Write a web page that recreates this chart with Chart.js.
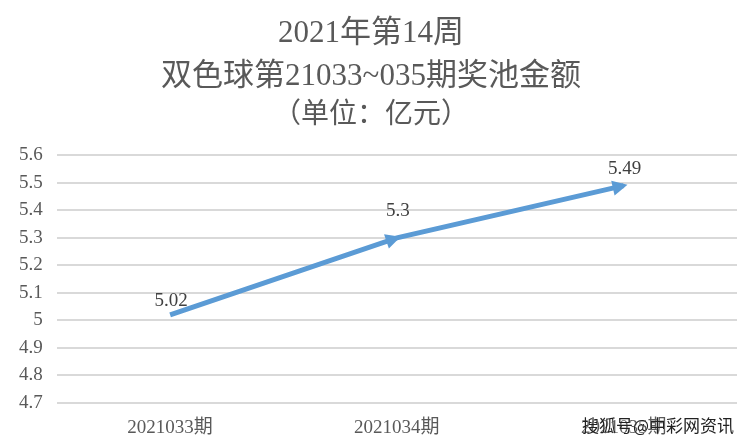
<!DOCTYPE html>
<html lang="zh">
<head>
    <meta charset="UTF-8">
    <title>双色球奖池金额</title>
    <script src="https://cdn.jsdelivr.net/npm/chart.js@4.4.1/dist/chart.umd.min.js"></script>
    <style>
        body {
            margin: 0;
            background: #ffffff;
        }

        #wrap {
            position: relative;
            width: 738px;
            height: 440px;
        }

        #watermark {
            position: absolute;
            right: 4px;
            bottom: 3px;
            font-family: "Noto Sans CJK SC", sans-serif;
            font-size: 17px;
            color: #222;
            text-shadow: 0 0 1px #fff;
        }
    </style>
</head>
<body>
    <div id="wrap">
        <canvas id="chart" width="738" height="440"></canvas>
        <div id="watermark">搜狐号@中彩网资讯</div>
    </div>

    <script>
        // data
        var periods = ['2021033期', '2021034期', '2021035期'];
        var pool = [5.02, 5.3, 5.49];
        var titleLines = ['2021年第14周', '双色球第21033~035期奖池金额'];
        var subtitleText = '（单位：亿元）';

        var textColor = '#595959';
        var lineColor = '#5B9BD5';
        var serif = '"Liberation Serif", "Noto Sans CJK SC", serif';

        // arrow heads at the end of every segment, like the Excel line ends
        var arrowPlugin = {
            id: 'arrows',
            afterDatasetsDraw: function (chart) {
                var pts = chart.getDatasetMeta(0).data;
                var ctx = chart.ctx;
                for (var i = 1; i < pts.length; i++) {
                    var a = pts[i - 1], b = pts[i];
                    var ang = Math.atan2(b.y - a.y, b.x - a.x);
                    var len = 15, half = 7.5, over = 4;
                    var tx = b.x + Math.cos(ang) * over;
                    var ty = b.y + Math.sin(ang) * over;
                    ctx.save();
                    ctx.fillStyle = lineColor;
                    ctx.beginPath();
                    ctx.moveTo(tx, ty);
                    ctx.lineTo(tx - len * Math.cos(ang) + half * Math.sin(ang),
                               ty - len * Math.sin(ang) - half * Math.cos(ang));
                    ctx.lineTo(tx - len * Math.cos(ang) - half * Math.sin(ang),
                               ty - len * Math.sin(ang) + half * Math.cos(ang));
                    ctx.closePath();
                    ctx.fill();
                    ctx.restore();
                }
            }
        };

        // value labels above the points
        var labelLift = [14, 27, 17];
        var labelPlugin = {
            id: 'valueLabels',
            afterDatasetsDraw: function (chart) {
                var ds = chart.data.datasets[0];
                var pts = chart.getDatasetMeta(0).data;
                var ctx = chart.ctx;
                ctx.save();
                ctx.font = '19px ' + serif;
                ctx.fillStyle = '#404040';
                ctx.textAlign = 'center';
                ctx.textBaseline = 'middle';
                pts.forEach(function (p, i) {
                    ctx.fillText(String(ds.data[i]), p.x + 1, p.y - labelLift[i]);
                });
                ctx.restore();
            }
        };

        new Chart(document.getElementById('chart'), {
            type: 'line',
            data: {
                labels: periods,
                datasets: [{
                    data: pool,
                    borderColor: lineColor,
                    borderWidth: 5,
                    borderCapStyle: 'butt',
                    pointRadius: 0,
                    tension: 0,
                    fill: false
                }]
            },
            options: {
                responsive: false,
                animation: false,
                layout: {
                    padding: { left: 5, right: 1, top: 0, bottom: 0 }
                },
                plugins: {
                    legend: { display: false },
                    tooltip: { enabled: false },
                    title: {
                        display: true,
                        text: titleLines,
                        color: textColor,
                        font: { family: serif, size: 31, weight: 'normal', lineHeight: 1.4 },
                        padding: { top: 12, bottom: 0 }
                    },
                    subtitle: {
                        display: true,
                        text: subtitleText,
                        color: textColor,
                        font: { family: serif, size: 28, weight: 'normal', lineHeight: 1.2 },
                        padding: { top: 0, bottom: 23 }
                    }
                },
                scales: {
                    x: {
                        offset: true,
                        grid: { display: false },
                        border: { display: false },
                        afterFit: function (scale) {
                            scale.height = 37;
                        },
                        ticks: {
                            color: textColor,
                            padding: 6,
                            font: { family: serif, size: 19 }
                        }
                    },
                    y: {
                        min: 4.7,
                        max: 5.6,
                        grid: { color: '#d9d9d9', lineWidth: 2, drawTicks: false },
                        border: { display: false },
                        ticks: {
                            stepSize: 0.1,
                            color: textColor,
                            padding: 14,
                            font: { family: serif, size: 19 },
                            callback: function (v) {
                                return String(Math.round(v * 10) / 10);
                            }
                        }
                    }
                }
            },
            plugins: [arrowPlugin, labelPlugin]
        });
    </script>
</body>
</html>
